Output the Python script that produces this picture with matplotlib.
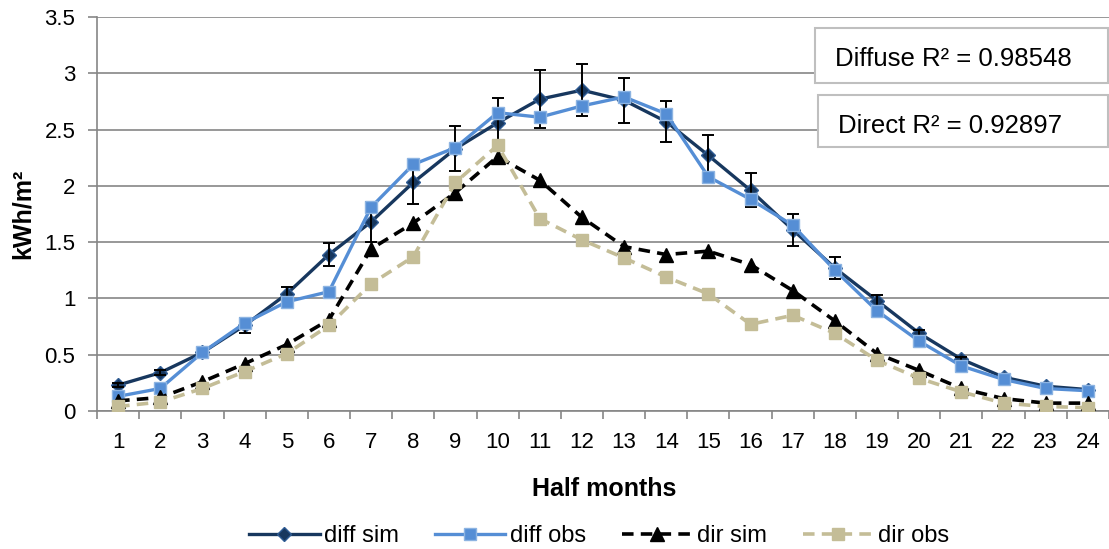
import numpy as np
import matplotlib
matplotlib.use("Agg")
import matplotlib.pyplot as plt
from matplotlib.patches import Rectangle

plt.rcParams['font.family'] = ['Liberation Sans', 'DejaVu Sans']

# half-month index
half_months = list(range(1, 25))

diff_sim = [0.23, 0.34, 0.52, 0.76, 1.04, 1.39, 1.68, 2.03, 2.33, 2.56, 2.77, 2.85,
            2.76, 2.57, 2.27, 1.96, 1.61, 1.27, 0.98, 0.69, 0.46, 0.30, 0.22, 0.19]
diff_err = [0.02, 0.02, 0.02, 0.07, 0.06, 0.10, 0.18, 0.19, 0.20, 0.22, 0.26, 0.23,
            0.20, 0.18, 0.18, 0.15, 0.14, 0.10, 0.05, 0.03, 0.02, 0.01, 0.01, 0.01]
diff_obs = [0.13, 0.20, 0.52, 0.78, 0.97, 1.06, 1.81, 2.19, 2.34, 2.65, 2.61, 2.71,
            2.79, 2.64, 2.08, 1.88, 1.65, 1.25, 0.89, 0.62, 0.40, 0.28, 0.20, 0.18]
dir_sim = [0.09, 0.12, 0.26, 0.42, 0.59, 0.81, 1.44, 1.67, 1.94, 2.26, 2.05, 1.72,
           1.46, 1.39, 1.42, 1.30, 1.07, 0.80, 0.51, 0.36, 0.20, 0.11, 0.07, 0.07]
dir_obs = [0.04, 0.08, 0.20, 0.35, 0.51, 0.76, 1.13, 1.37, 2.03, 2.36, 1.71, 1.52,
           1.36, 1.19, 1.04, 0.77, 0.85, 0.69, 0.45, 0.29, 0.17, 0.07, 0.04, 0.03]

W, H = 1109, 549
fig = plt.figure(figsize=(W / 100, H / 100), dpi=100)
ax = fig.add_axes([97 / W, 1 - 411 / H, (W - 97) / W, 394 / H])

grid_c = '#868686'
ax.plot(half_months, diff_sim, '-D', color='#17375E', lw=2.4, ms=7,
        mfc='#17375E', mec='#2F5C94', mew=1, label='diff sim', zorder=3)
ax.errorbar(half_months, diff_sim, yerr=diff_err, fmt='none', ecolor='black',
            elinewidth=1.4, capsize=4.5, capthick=1.4, zorder=3.5)
ax.plot(half_months, diff_obs, '-s', color='#558ED5', lw=2.4, ms=9,
        mfc='#558ED5', mec='#8DB4E2', mew=1, label='diff obs', zorder=4)
ax.plot(half_months, dir_sim, '--^', color='black', lw=2.6, ms=10,
        dashes=(3.2, 2), label='dir sim', zorder=5)
ax.plot(half_months, dir_obs, '--s', color='#C4BD97', lw=2.6, ms=9,
        dashes=(3.2, 2), label='dir obs', zorder=6)

ax.set_xlim(0.5, 24.5)
ax.set_ylim(0, 3.5)
ax.set_yticks(np.arange(0, 3.51, 0.5))
ax.set_yticklabels(['0', '0.5', '1', '1.5', '2', '2.5', '3', '3.5'])
ax.set_xticks(half_months)
ax.set_xticks(np.arange(0.5, 25, 1), minor=True)
ax.tick_params(axis='x', which='major', length=0, pad=15, labelsize=16)
ax.tick_params(axis='x', which='minor', length=6, width=1.2, color=grid_c)
ax.tick_params(axis='y', length=6.5, width=1.2, color=grid_c, pad=9, labelsize=16)

ax.grid(axis='y', color=grid_c, lw=1.2)
ax.set_axisbelow(True)
for s in ['top', 'right']:
    ax.spines[s].set_visible(False)
for s in ['left', 'bottom']:
    ax.spines[s].set_color(grid_c)
    ax.spines[s].set_linewidth(1.2)

fig.text(604 / W, 1 - 489 / H, 'Half months', fontsize=18, fontweight='bold',
         ha='center', va='center')
fig.text(23 / W, 1 - 214 / H, 'kWh/m²', fontsize=18, fontweight='bold',
         rotation=90, ha='center', va='center')

# R² annotation boxes
for x0, y0, y1, tx, base, txt in [(815, 28, 83, 835, 66, 'Diffuse R² = 0.98548'),
                                  (818, 95, 147, 838, 133, 'Direct R² = 0.92897')]:
    fig.patches.append(Rectangle((x0 / W, 1 - y1 / H), (W - x0 - 1) / W, (y1 - y0) / H,
                                 transform=fig.transFigure, facecolor='white',
                                 edgecolor='#BFBFBF', lw=1.5, zorder=10))
    fig.text(tx / W, 1 - base / H, txt, fontsize=18.5, ha='left', va='baseline', zorder=11)

fig.legend(loc='center', bbox_to_anchor=(599 / W, 1 - 536 / H), ncol=4, frameon=False,
           fontsize=17, handlelength=3.0, columnspacing=1.5, handletextpad=0.2,
           borderaxespad=0, borderpad=0)

fig.savefig('out.png', dpi=100)
